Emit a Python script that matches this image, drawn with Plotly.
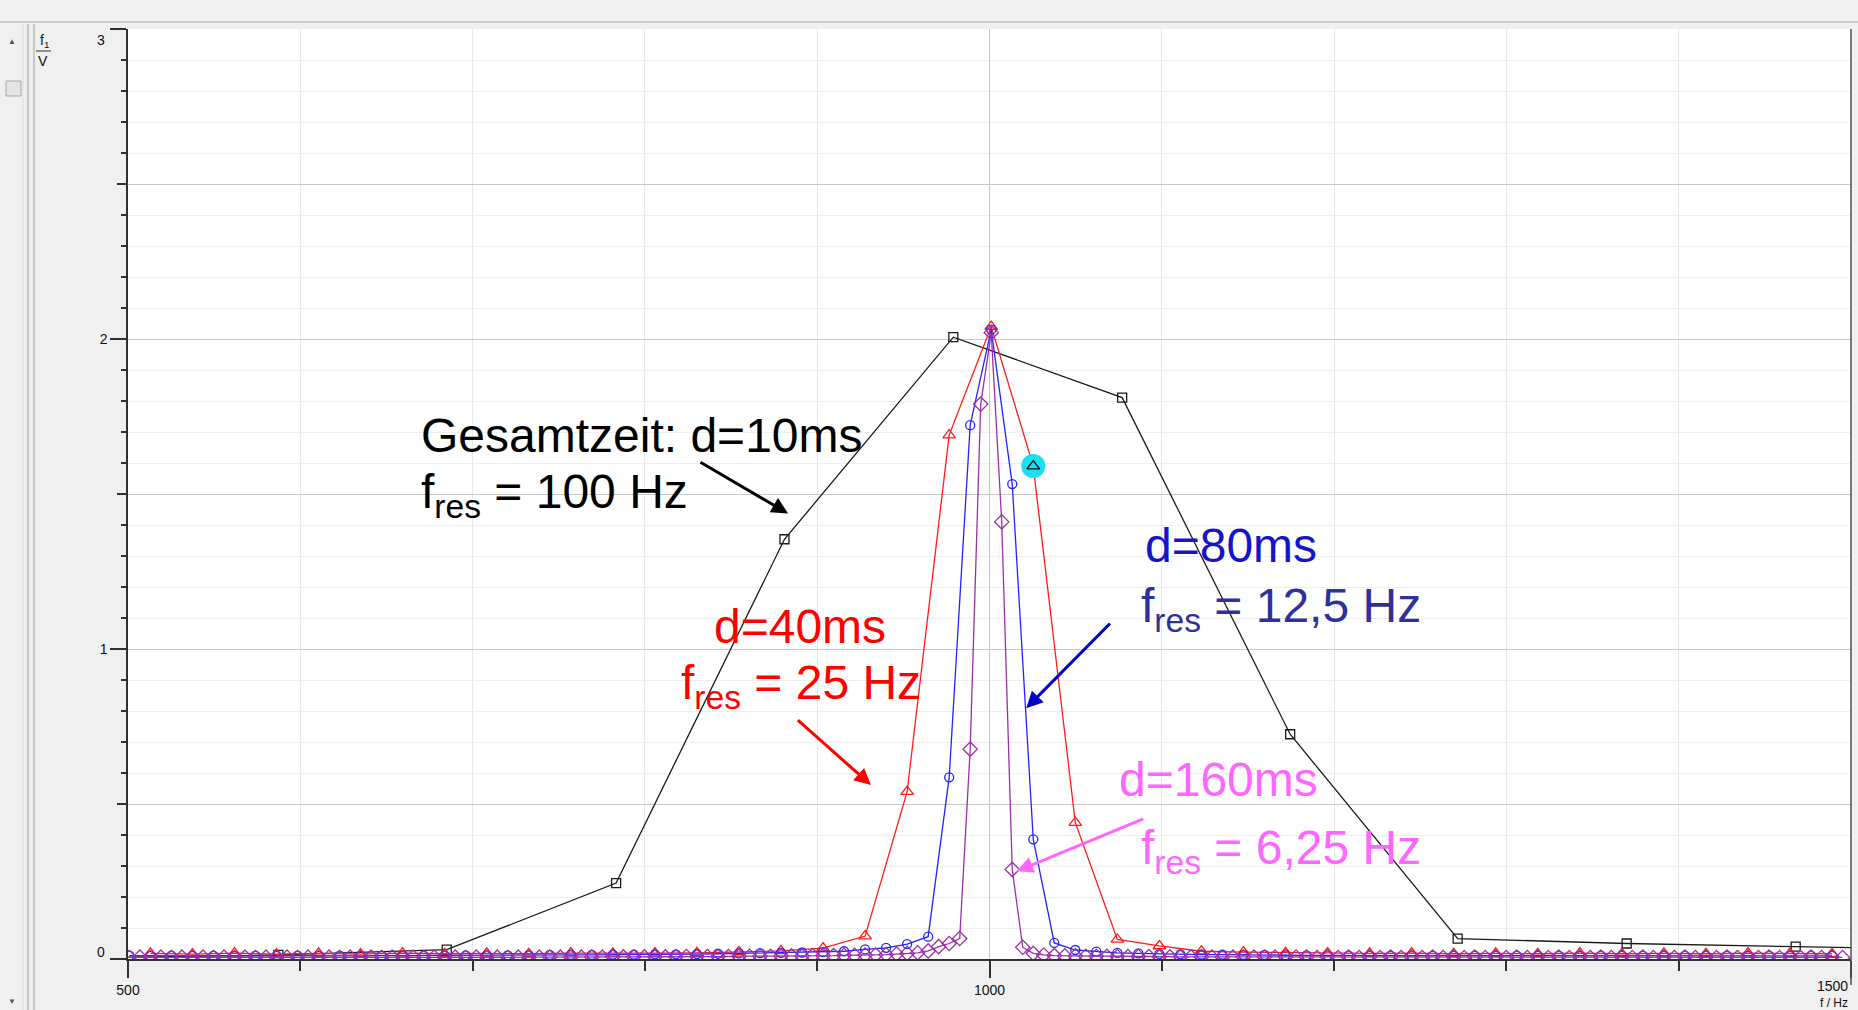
import plotly.graph_objects as go

# FFT spectra of a 1 kHz tone, four measuring times (frequency in Hz, amplitude in V)
black_f = [489.3, 587.3, 685.0, 783.3, 881.0, 979.0, 1077.0, 1174.5, 1271.7, 1369.8, 1467.9, 1565.5]
black_v = [0.005, 0.013, 0.03, 0.245, 1.354, 2.006, 1.811, 0.725, 0.066, 0.05, 0.04, 0.03]

red_f = [513.0, 537.4, 561.8, 586.2, 610.6, 635.0, 659.4, 683.8, 708.2, 732.6,
         757.0, 781.4, 805.8, 830.2, 854.6, 879.0, 903.4, 927.8, 952.2, 976.6,
         1001.0, 1025.4, 1049.8, 1074.2, 1098.6, 1123.0, 1147.4, 1171.8, 1196.2, 1220.6,
         1245.0, 1269.4, 1293.8, 1318.2, 1342.6, 1367.0, 1391.4, 1415.8, 1440.2, 1464.6, 1489.0]
red_v = [0.018, 0.016, 0.019, 0.016, 0.018, 0.016, 0.019, 0.017, 0.018, 0.017,
         0.019, 0.018, 0.019, 0.02, 0.023, 0.026, 0.035, 0.074, 0.54, 1.69,
         2.04, 1.59, 0.44, 0.063, 0.042, 0.025, 0.022, 0.02, 0.019, 0.018,
         0.019, 0.017, 0.018, 0.017, 0.019, 0.017, 0.018, 0.017, 0.019, 0.018, 0.017]

blue_f = [500.8, 513.0, 525.2, 537.4, 549.6, 561.8, 574.0, 586.2, 598.4, 610.6,
          622.8, 635.0, 647.2, 659.4, 671.6, 683.8, 696.0, 708.2, 720.4, 732.6,
          744.8, 757.0, 769.2, 781.4, 793.6, 805.8, 818.0, 830.2, 842.4, 854.6,
          866.8, 879.0, 891.2, 903.4, 915.6, 927.8, 940.0, 952.2, 964.4, 976.6,
          988.8, 1001.0, 1013.2, 1025.4, 1037.6, 1049.8, 1062.0, 1074.2, 1086.4, 1098.6,
          1110.8, 1123.0, 1135.2, 1147.4, 1159.6, 1171.8, 1184.0, 1196.2, 1208.4, 1220.6,
          1232.8, 1245.0, 1257.2, 1269.4, 1281.6, 1293.8, 1306.0, 1318.2, 1330.4, 1342.6,
          1354.8, 1367.0, 1379.2, 1391.4, 1403.6, 1415.8, 1428.0, 1440.2, 1452.4, 1464.6,
          1476.8, 1489.0]
blue_v = [0.011, 0.010, 0.011, 0.010, 0.011, 0.010, 0.011, 0.010, 0.011, 0.010,
          0.011, 0.010, 0.011, 0.011, 0.011, 0.011, 0.012, 0.012, 0.012, 0.012,
          0.013, 0.013, 0.013, 0.014, 0.014, 0.015, 0.015, 0.016, 0.017, 0.018,
          0.019, 0.020, 0.021, 0.022, 0.025, 0.031, 0.036, 0.048, 0.072, 0.586,
          1.722, 2.03, 1.532, 0.386, 0.052, 0.029, 0.024, 0.020, 0.018, 0.016,
          0.015, 0.014, 0.014, 0.013, 0.013, 0.012, 0.012, 0.012, 0.011, 0.011,
          0.011, 0.011, 0.011, 0.010, 0.011, 0.010, 0.011, 0.010, 0.011, 0.010,
          0.011, 0.010, 0.011, 0.010, 0.011, 0.010, 0.011, 0.010, 0.011, 0.010,
          0.011, 0.010]

purple_f = [500.8, 506.9, 513.0, 519.1, 525.2, 531.3, 537.4, 543.5, 549.6, 555.7,
            561.8, 567.9, 574.0, 580.1, 586.2, 592.3, 598.4, 604.5, 610.6, 616.7,
            622.8, 628.9, 635.0, 641.1, 647.2, 653.3, 659.4, 665.5, 671.6, 677.7,
            683.8, 689.9, 696.0, 702.1, 708.2, 714.3, 720.4, 726.5, 732.6, 738.7,
            744.8, 750.9, 757.0, 763.1, 769.2, 775.3, 781.4, 787.5, 793.6, 799.7,
            805.8, 811.9, 818.0, 824.1, 830.2, 836.3, 842.4, 848.5, 854.6, 860.7,
            866.8, 872.9, 879.0, 885.1, 891.2, 897.3, 903.4, 909.5, 915.6, 921.7,
            927.8, 933.9, 940.0, 946.1, 952.2, 958.3, 964.4, 970.5, 976.6, 982.7,
            988.8, 994.9, 1001.0,
            1007.1, 1013.2, 1019.3, 1025.4, 1031.5, 1037.6, 1043.7, 1049.8, 1055.9, 1062.0,
            1068.1, 1074.2, 1080.3, 1086.4, 1092.5, 1098.6, 1104.7, 1110.8, 1116.9, 1123.0,
            1129.1, 1135.2, 1141.3, 1147.4, 1153.5, 1159.6, 1165.7, 1171.8, 1177.9, 1184.0,
            1190.1, 1196.2, 1202.3, 1208.4, 1214.5, 1220.6, 1226.7, 1232.8, 1238.9, 1245.0,
            1251.1, 1257.2, 1263.3, 1269.4, 1275.5, 1281.6, 1287.7, 1293.8, 1299.9, 1306.0,
            1312.1, 1318.2, 1324.3, 1330.4, 1336.5, 1342.6, 1348.7, 1354.8, 1360.9, 1367.0,
            1373.1, 1379.2, 1385.3, 1391.4, 1397.5, 1403.6, 1409.7, 1415.8, 1421.9, 1428.0,
            1434.1, 1440.2, 1446.3, 1452.4, 1458.5, 1464.6, 1470.7, 1476.8, 1482.9, 1489.0,
            1495.1]
purple_v = [0.005, 0.006, 0.005, 0.006, 0.005, 0.006, 0.005, 0.006, 0.005, 0.006,
            0.005, 0.006, 0.005, 0.006, 0.005, 0.006, 0.005, 0.006, 0.005, 0.006,
            0.005, 0.006, 0.005, 0.006, 0.005, 0.006, 0.005, 0.006, 0.005, 0.006,
            0.005, 0.006, 0.005, 0.006, 0.005, 0.006, 0.005, 0.006, 0.005, 0.006,
            0.006, 0.006, 0.006, 0.006, 0.006, 0.006, 0.007, 0.007, 0.007, 0.007,
            0.007, 0.007, 0.007, 0.008, 0.008, 0.008, 0.008, 0.008, 0.009, 0.009,
            0.009, 0.009, 0.010, 0.010, 0.010, 0.011, 0.011, 0.011, 0.012, 0.012,
            0.013, 0.013, 0.014, 0.016, 0.018, 0.020, 0.026, 0.040, 0.050, 0.066,
            0.677, 1.790, 2.020,
            1.410, 0.289, 0.038, 0.018, 0.013, 0.011, 0.010, 0.010, 0.009, 0.009,
            0.009, 0.008, 0.008, 0.008, 0.008, 0.007, 0.007, 0.007, 0.007, 0.007,
            0.006, 0.006, 0.006, 0.006, 0.006, 0.006, 0.006, 0.006, 0.006, 0.006,
            0.005, 0.006, 0.005, 0.006, 0.005, 0.006, 0.005, 0.006, 0.005, 0.006,
            0.005, 0.006, 0.005, 0.006, 0.005, 0.006, 0.005, 0.006, 0.005, 0.006,
            0.005, 0.006, 0.005, 0.006, 0.005, 0.006, 0.005, 0.006, 0.005, 0.006,
            0.005, 0.006, 0.005, 0.006, 0.005, 0.006, 0.005, 0.006, 0.005, 0.006,
            0.005, 0.006, 0.005, 0.006, 0.005, 0.006, 0.005, 0.006, 0.005, 0.006,
            0.005]
selected_idx = 21  # red point marked in cyan

W, H = 1858, 1010
L, R, T, B = 128, 7, 29, 51
FONT = "Liberation Sans, Arial, sans-serif"


def paper_x(px):
    return (px - L) / (W - L - R)


def paper_y(py):
    return 1 - (py - T) / (H - T - B)


fig = go.Figure()

series = [
    (black_f, black_v, "#1a1a1a", "square-open", 9),
    (red_f, red_v, "#ff1a1a", "triangle-up-open", 11),
    (blue_f, blue_v, "#2323ff", "circle-open", 9),
    (purple_f, purple_v, "#9a2fa8", "diamond-open", 11),
]
for fx, fy, col, sym, size in series:
    fig.add_trace(go.Scatter(
        x=fx, y=fy, mode="lines+markers",
        line=dict(color=col, width=1.3),
        marker=dict(symbol=sym, size=size, color=col, line=dict(width=1.3, color=col)),
        showlegend=False, hoverinfo="skip"
    ))

# selected point highlight
fig.add_trace(go.Scatter(
    x=[red_f[selected_idx]], y=[red_v[selected_idx]], mode="markers",
    marker=dict(symbol="circle", size=24, color="#18e0ee"),
    showlegend=False, hoverinfo="skip"
))
fig.add_trace(go.Scatter(
    x=[red_f[selected_idx]], y=[red_v[selected_idx]], mode="markers",
    marker=dict(symbol="triangle-up-open", size=11, color="#111111", line=dict(width=1.4)),
    showlegend=False, hoverinfo="skip"
))
# carrier for the half-step tick axis
fig.add_trace(go.Scatter(x=[], y=[], yaxis="y2", showlegend=False, hoverinfo="skip"))

labels = [
    ("Gesamtzeit: d=10ms", 669.0, 1.689, "black"),
    ("f<sub>res</sub> = 100 Hz", 669.0, 1.498, "black"),
    ("d=40ms", 839.0, 1.071, "#ff0000"),
    ("f<sub>res</sub> = 25 Hz", 820.0, 0.881, "#ff0000"),
    ("d=80ms", 1089.0, 1.334, "#1414c8"),
    ("f<sub>res</sub> = 12,5 Hz", 1086.5, 1.129, "#30309a"),
    ("d=160ms", 1074.0, 0.580, "#ff66ff"),
    ("f<sub>res</sub> = 6,25 Hz", 1086.5, 0.347, "#ff66ff"),
]
arrows = [
    (883.1, 1.437, 831.4, 1.605, "black"),
    (931.2, 0.561, 887.9, 0.775, "#ff0000"),
    (1021.3, 0.809, 1070.8, 1.087, "#0000c8"),
    (1015.8, 0.283, 1090.1, 0.454, "#ff66ff"),
]

annotations = []
for text, x, y, col in labels:
    annotations.append(dict(x=x, y=y, xref="x", yref="y", text=text, showarrow=False,
                            xanchor="left", yanchor="middle",
                            font=dict(family=FONT, size=48, color=col)))
for x, y, ax, ay, col in arrows:
    annotations.append(dict(x=x, y=y, ax=ax, ay=ay, xref="x", yref="y", axref="x", ayref="y",
                            text="", showarrow=True, arrowhead=2, arrowsize=1.1,
                            arrowwidth=3, arrowcolor=col))

small = dict(family=FONT, size=14, color="#111111")
annotations += [
    dict(x=paper_x(107), y=paper_y(952), xref="paper", yref="paper", text="0",
         showarrow=False, xanchor="right", yanchor="middle", font=small),
    dict(x=paper_x(107), y=paper_y(40), xref="paper", yref="paper", text="3",
         showarrow=False, xanchor="right", yanchor="middle", font=small),
    dict(x=paper_x(1850), y=paper_y(986), xref="paper", yref="paper", text="1500",
         showarrow=False, xanchor="right", yanchor="middle", font=small),
    dict(x=paper_x(1850), y=paper_y(1003), xref="paper", yref="paper", text="f / Hz",
         showarrow=False, xanchor="right", yanchor="middle", font=dict(family=FONT, size=12, color="#111111")),
    dict(x=paper_x(44), y=paper_y(41), xref="paper", yref="paper", text="f<sub>1</sub>",
         showarrow=False, xanchor="center", yanchor="middle", font=small),
    dict(x=paper_x(43), y=paper_y(61), xref="paper", yref="paper", text="V",
         showarrow=False, xanchor="center", yanchor="middle", font=small),
    dict(x=paper_x(12), y=paper_y(41), xref="paper", yref="paper", text="▲",
         showarrow=False, xanchor="center", yanchor="middle", font=dict(size=8, color="#555555")),
    dict(x=paper_x(12), y=paper_y(1002), xref="paper", yref="paper", text="▼",
         showarrow=False, xanchor="center", yanchor="middle", font=dict(size=8, color="#555555")),
]

shapes = [
    dict(type="line", xref="paper", yref="paper", x0=paper_x(0), x1=paper_x(W),
         y0=paper_y(22), y1=paper_y(22), line=dict(color="#a8a8a8", width=1)),
    dict(type="line", xref="paper", yref="paper", x0=paper_x(23), x1=paper_x(23),
         y0=paper_y(24), y1=paper_y(H), line=dict(color="#dcdcdc", width=1)),
    dict(type="line", xref="paper", yref="paper", x0=paper_x(28), x1=paper_x(28),
         y0=paper_y(24), y1=paper_y(H), line=dict(color="#a0a0a0", width=1)),
    dict(type="line", xref="paper", yref="paper", x0=paper_x(34), x1=paper_x(34),
         y0=paper_y(24), y1=paper_y(H), line=dict(color="#a0a0a0", width=1)),
    dict(type="rect", xref="paper", yref="paper", x0=paper_x(6), x1=paper_x(21),
         y0=paper_y(96), y1=paper_y(81), line=dict(color="#a8a8a8", width=1), fillcolor="#e4e4e4"),
    dict(type="line", xref="paper", yref="paper", x0=paper_x(36), x1=paper_x(51),
         y0=paper_y(51), y1=paper_y(51), line=dict(color="#333333", width=1)),
    dict(type="line", xref="paper", yref="paper", x0=1, x1=1,
         y0=paper_y(985), y1=1, line=dict(color="#505050", width=1.5)),
]

fig.update_layout(
    width=W, height=H,
    margin=dict(l=L, r=R, t=T, b=B),
    paper_bgcolor="#f0f0f0",
    plot_bgcolor="white",
    showlegend=False,
    font=dict(family=FONT, size=14, color="#111111"),
    xaxis=dict(
        range=[500, 1500], tickvals=[500, 1000, 1500], ticktext=["500", "1000", ""],
        ticks="outside", ticklen=17, tickwidth=1.5, tickcolor="#303030",
        showline=True, linecolor="#303030", linewidth=1.5,
        showgrid=True, gridcolor="#c4c4c4", zeroline=False,
        minor=dict(tickmode="linear", tick0=500, dtick=100, ticks="outside", ticklen=10,
                   tickcolor="#303030", showgrid=True, gridcolor="#e8e8e8"),
    ),
    yaxis=dict(
        range=[0, 3], tickvals=[0, 1, 2, 3], ticktext=["", "1", "2", ""],
        ticks="outside", ticklen=16, tickwidth=1.5, tickcolor="#303030",
        showline=True, linecolor="#303030", linewidth=1.5,
        showgrid=True, gridcolor="#c8c8c8", zeroline=False,
        minor=dict(tickmode="linear", tick0=0, dtick=0.1, ticks="outside", ticklen=5,
                   tickcolor="#303030", showgrid=True, gridcolor="#efefef"),
    ),
    yaxis2=dict(
        overlaying="y", anchor="x", side="left", range=[0, 3],
        tickvals=[0.5, 1.5, 2.5], ticks="outside", ticklen=10, tickwidth=1.5,
        tickcolor="#303030", showticklabels=False, showgrid=True, gridcolor="#c8c8c8",
        zeroline=False, showline=False,
    ),
    annotations=annotations,
    shapes=shapes,
)

# the page's default body margin would push the figure off the window
fig.write_html("out.html", config={"displayModeBar": False},
               post_script="document.body.style.margin = '0px';")
